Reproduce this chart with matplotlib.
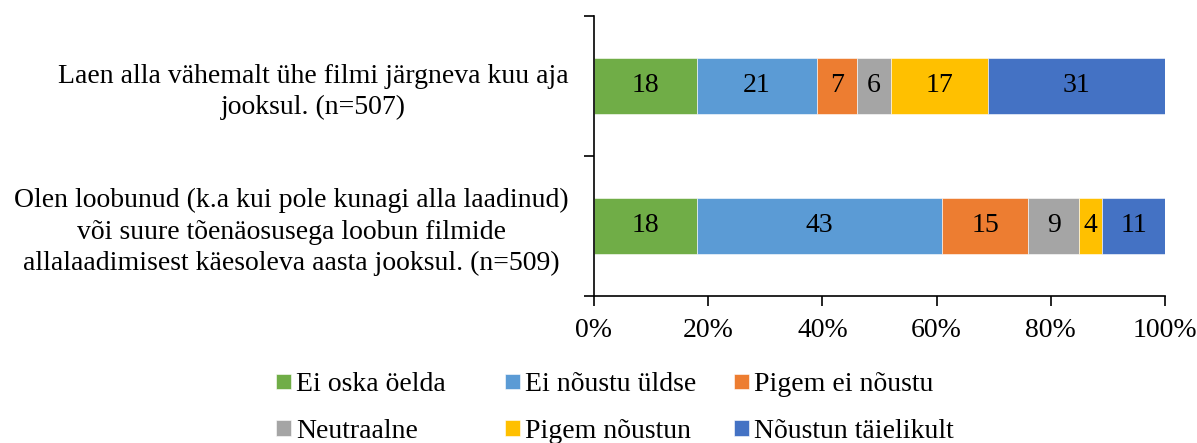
import numpy as np
import matplotlib.pyplot as plt
from matplotlib.ticker import FixedLocator, PercentFormatter

plt.rcParams['font.family'] = ['Liberation Serif', 'DejaVu Serif']

# Categories (top to bottom)
categories = [
    'Laen alla vähemalt ühe filmi järgneva kuu aja\njooksul. (n=507)',
    'Olen loobunud (k.a kui pole kunagi alla laadinud)\nvõi suure tõenäosusega loobun filmide\nallalaadimisest käesoleva aasta jooksul. (n=509)',
]

series_names = ['Ei oska öelda', 'Ei nõustu üldse', 'Pigem ei nõustu',
                'Neutraalne', 'Pigem nõustun', 'Nõustun täielikult']
series_colors = ['#70AD47', '#5B9BD5', '#ED7D31', '#A5A5A5', '#FFC000', '#4472C4']

# values per series, one per category
ei_oska = [18, 18]
ei_noustu_uldse = [21, 43]
pigem_ei = [7, 15]
neutraalne = [6, 9]
pigem_noustun = [17, 4]
taielikult = [31, 11]

series_values = [ei_oska, ei_noustu_uldse, pigem_ei, neutraalne, pigem_noustun, taielikult]

fig = plt.figure(figsize=(11.97, 4.43), dpi=100)
ax = fig.add_axes([594 / 1197, 1 - 296 / 443, 571 / 1197, 280 / 443])

y = np.arange(len(categories))
left = np.zeros(len(categories))
handles = []
for name, vals, col in zip(series_names, series_values, series_colors):
    vals = np.array(vals, dtype=float)
    bars = ax.barh(y, vals, left=left, height=0.4, color=col,
                   edgecolor='white', linewidth=0.4, label=name)
    handles.append(bars)
    for xi, yi, v in zip(left + vals / 2, y, vals):
        ax.text(xi, yi, f'{int(v)}', ha='center', va='center', fontsize=20, color='black')
    left += vals

ax.set_xlim(0, 100)
ax.set_ylim(len(categories) - 0.5, -0.5)

# x axis
ax.xaxis.set_major_locator(FixedLocator([0, 20, 40, 60, 80, 100]))
ax.xaxis.set_major_formatter(PercentFormatter(decimals=0))
ax.tick_params(axis='x', direction='out', length=7, width=1.2, labelsize=20, pad=9)

# y axis: ticks at category boundaries, labels at centers
ax.yaxis.set_major_locator(FixedLocator([-0.5, 0.5, 1.5]))
ax.set_yticklabels([])
ax.yaxis.set_minor_locator(FixedLocator(y))
ax.set_yticklabels(categories, minor=True, fontsize=20, multialignment='center',
                   linespacing=1.33)
ax.tick_params(axis='y', which='major', direction='out', length=7, width=1.2)
ax.tick_params(axis='y', which='minor', length=0, pad=18)

for s in ['top', 'right']:
    ax.spines[s].set_visible(False)
for s in ['left', 'bottom']:
    ax.spines[s].set_linewidth(1.2)
    ax.spines[s].set_color('black')

# legend: three equal-width columns, two rows (row-major order like Excel)
col_x = [276, 505, 734]
for c, x0 in enumerate(col_x):
    idx = [c, c + 3]
    leg = fig.legend([handles[i] for i in idx], [series_names[i] for i in idx],
                     loc='center left', bbox_to_anchor=(x0 / 1197, 1 - 408 / 443),
                     frameon=False, fontsize=20, handlelength=0.54, handleheight=0.47,
                     handletextpad=0.18, labelspacing=0.78, borderpad=0,
                     borderaxespad=0)

fig.savefig('out.png', dpi=100)
